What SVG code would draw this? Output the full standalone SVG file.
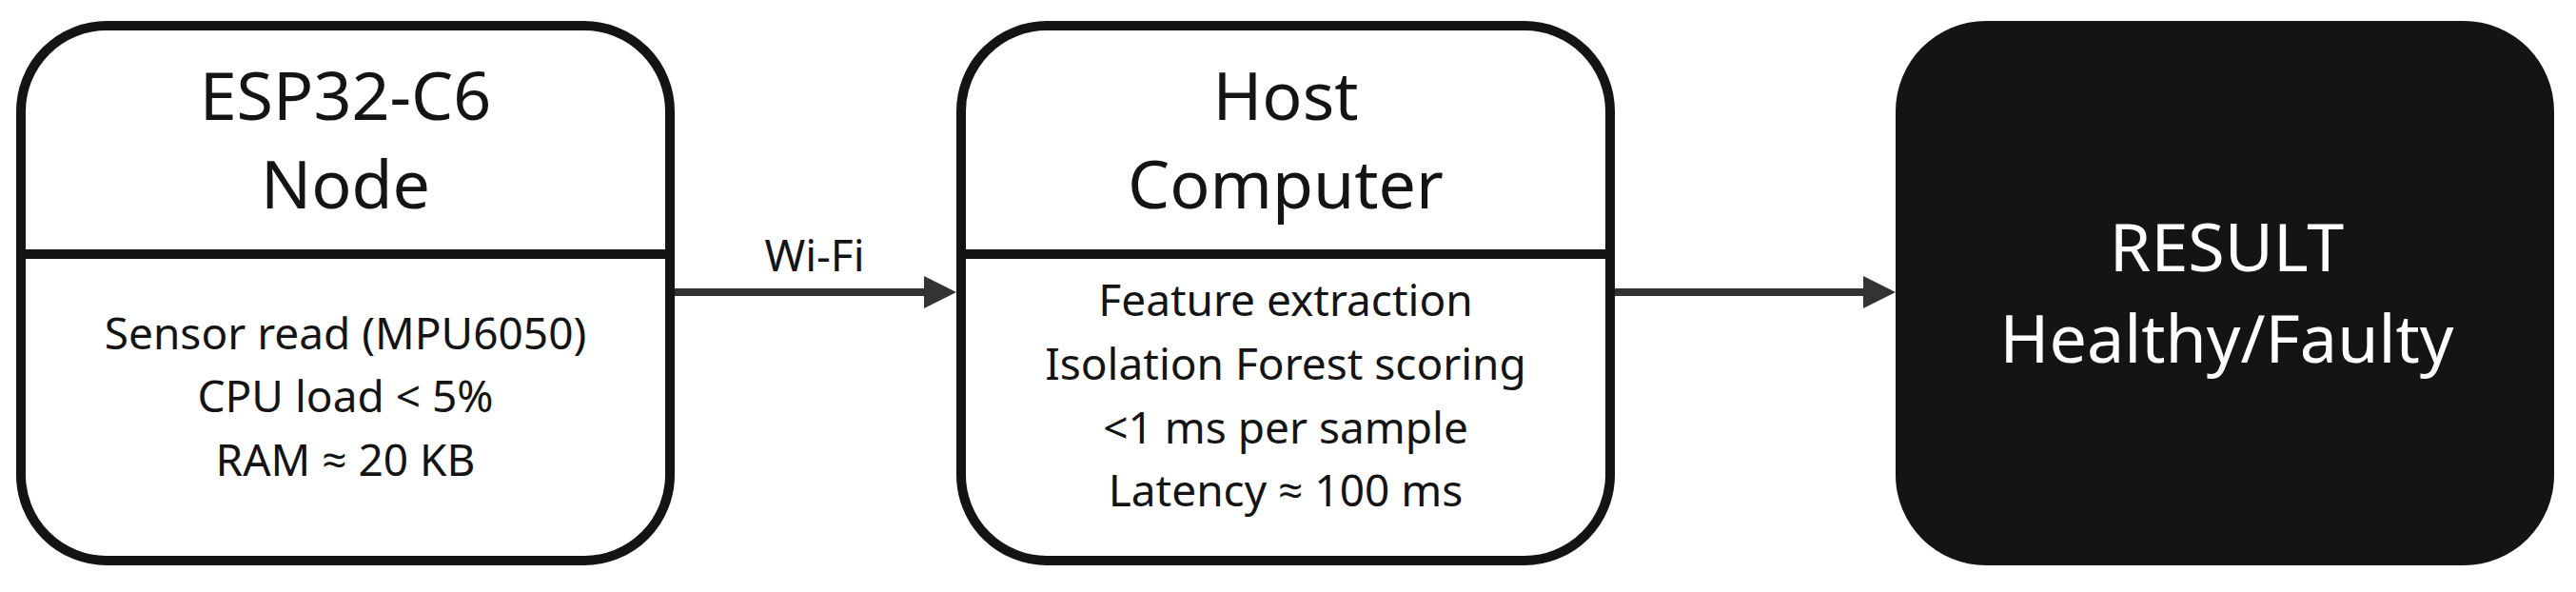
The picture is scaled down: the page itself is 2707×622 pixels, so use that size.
<svg xmlns="http://www.w3.org/2000/svg" width="2707" height="622" viewBox="0 0 2707 622">
  <style>
    .box { fill: #ffffff; stroke: #141414; stroke-width: 10; }
    .div { stroke: #141414; stroke-width: 10; }
    .dark { fill: #141414; }
    .title { font-family: "Noto Sans", "Open Sans", sans-serif; font-size: 70px; fill: #141414; text-anchor: middle; }
    .body { font-family: "Noto Sans", "Open Sans", sans-serif; font-size: 46px; fill: #141414; text-anchor: middle; }
    .white { fill: #ffffff; }
    .conn { stroke: #333333; stroke-width: 8; fill: none; }
  </style>
  <defs>
    <marker id="arrow" markerUnits="userSpaceOnUse" markerWidth="34" markerHeight="34" refX="9" refY="17" orient="auto">
      <path d="M0,0 L34,17 L0,34 z" fill="#333333"/>
    </marker>
  </defs>
  <rect width="2707" height="622" fill="#ffffff"/>
  <g id="node-esp32">
    <rect class="box" x="22" y="27" width="682" height="562" rx="90" ry="90"/>
    <line class="div" x1="22" y1="267" x2="704" y2="267"/>
    <text class="title" x="363" y="126">ESP32-C6</text>
    <text class="title" x="363" y="219">Node</text>
    <text class="body" x="363" y="367">Sensor read (MPU6050)</text>
    <text class="body" x="363" y="433">CPU load &lt; 5%</text>
    <text class="body" x="363" y="500">RAM ≈ 20 KB</text>
  </g>
  <g id="node-host">
    <rect class="box" x="1010" y="27" width="682" height="562" rx="90" ry="90"/>
    <line class="div" x1="1010" y1="267" x2="1692" y2="267"/>
    <text class="title" x="1351" y="126">Host</text>
    <text class="title" x="1351" y="219">Computer</text>
    <text class="body" x="1351" y="332">Feature extraction</text>
    <text class="body" x="1351" y="399">Isolation Forest scoring</text>
    <text class="body" x="1351" y="466">&lt;1 ms per sample</text>
    <text class="body" x="1351" y="532">Latency ≈ 100 ms</text>
  </g>
  <g id="node-result">
    <rect class="dark" x="1992" y="22" width="692" height="572" rx="95" ry="95"/>
    <text class="title white" x="2340" y="285">RESULT</text>
    <text class="title white" x="2340" y="381">Healthy/Faulty</text>
  </g>
  <g id="connectors">
    <line class="conn" x1="709" y1="307" x2="980" y2="307" marker-end="url(#arrow)"/>
    <text class="body" x="856" y="285">Wi-Fi</text>
    <line class="conn" x1="1697" y1="307" x2="1967" y2="307" marker-end="url(#arrow)"/>
  </g>
</svg>
